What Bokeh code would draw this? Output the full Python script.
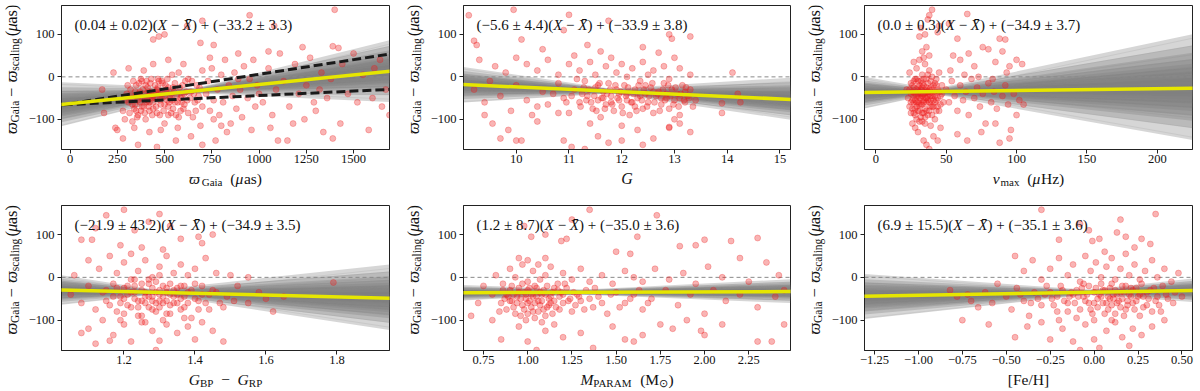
import math
from bokeh.plotting import figure
from bokeh.models import Range1d, FixedTicker, Label, Slope, ColumnDataSource
from bokeh.layouts import column, row
from bokeh.embed import file_html
from bokeh.resources import INLINE

FONT = "Liberation Serif"

# ---------------- data ----------------
Y_RANGE = (-171, 168)
Y_TICKS = [-100, 0, 100]
Y_TICKLABELS = ["\u2212100", "0", "100"]

INTERCEPT_OFFSETS = [1.3, -4.0, 3.0, -1.0, 5.0, -2.6, 0.3, -5.3, 2.0, -0.3, 3.6, -1.7,
                     1.0, -3.3, 2.6, -0.7, 6.2, -2.0, 0.7, -4.6, 1.7, -0.2, 4.0, -3.0]

# panel 1: parallax
P1_XRANGE = (-45, 1690)
P1_TICKS = [0, 250, 500, 750, 1000, 1250, 1500]
P1_TICKLABELS = ["0", "250", "500", "750", "1000", "1250", "1500"]
P1_FIT = (0.045, -33.2, 660)          # slope, intercept at X-bar, X-bar
P1_FIT_TEXT = ("0.04 \u00b1 0.02", "\u221233.2 \u00b1 3.3")
P1_SLOPES = [-0.02, -0.005, 0.006, 0.012, 0.018, 0.022, 0.027, 0.031, 0.035, 0.038, 0.041, 0.045,
             0.047, 0.050, 0.054, 0.058, 0.062, 0.066, 0.071, 0.075, 0.081, 0.089, 0.098, 0.11]
P1_BOUNDS = [(0.069, -63.0), (0.021, -65.0)]   # dashed lines: gradient, value at x=0
P1_POINTS = [
    (1400, 158), (950, 145), (700, 132), (620, 120), (500, 100), (470, 95), (440, 88), (690, 80), (760, 75),
    (1050, 60), (1230, 70), (1390, 72), (1420, 68), (1500, 55), (1080, 120), (310, 20), (230, 10), (170, -30),
    (180, -85), (240, -120), (250, -125), (280, -145), (360, -160), (460, -165), (560, -150), (640, -140),
    (700, -160), (770, -150), (1100, -150), (1150, -150), (1340, -130), (1390, -145), (1580, -125), (1690, -90),
    (1650, -70), (1240, -100), (1290, -60), (1430, -110), (1520, -60),
    (300, -40), (310, -60), (320, -30), (330, -50), (340, -75), (350, -20), (350, -45), (360, -90), (370, -35),
    (370, -60), (380, -10), (380, -50), (390, -70), (400, -40), (400, -100), (410, -25), (410, -55), (420, -45),
    (420, -80), (430, -5), (430, -35), (440, -60), (450, -20), (450, -50), (460, -85), (470, -40), (480, -65),
    (490, -15), (500, -45), (500, -110), (510, -30), (520, -70), (530, -50), (540, 5), (550, -35), (560, -90),
    (570, -60), (580, -25), (590, -45), (600, -75), (610, -10), (620, -55), (640, -35), (650, -95), (660, -60),
    (670, -20), (680, -45), (690, -115), (700, -70), (330, -105), (390, 15), (440, 30), (520, 40), (600, 30),
    (280, -80), (290, -100), (340, -120), (420, -130), (480, -125), (570, -120), (345, -35), (365, -15),
    (375, -80), (395, -55), (405, -10), (415, -70), (435, -50), (455, -35), (465, -5), (475, -90), (485, -50),
    (505, -20), (515, -55), (535, -85), (545, -25), (555, -60), (575, 10), (585, -80), (605, -40), (625, -5),
    (295, -55), (305, -20), (315, -85), (325, -45), (335, -10), (345, -65), (355, -95), (365, -40), (375, -5),
    (385, -30), (395, -85), (405, -60), (415, -35), (425, -15), (435, -90), (445, -40), (455, -70), (465, -25),
    (475, -55), (485, -10), (495, -80), (505, -35), (515, -5), (525, -60), (535, -40), (545, -75), (555, -15),
    (565, -45), (575, -95), (585, -50), (595, -20), (605, -65), (615, -35), (625, -85), (635, -50), (645, -10),
    (655, -40), (665, -80), (675, -55), (685, -25), (360, -55), (380, -70), (400, -20), (420, -60), (440, -45),
    (460, -30), (480, -40), (500, -65), (520, -25), (540, -55), (330, -65), (350, -80), (440, -75), (590, -60),
    (470, -10), (520, -90),
    (720, -40), (730, -10), (740, -80), (750, 20), (760, -55), (780, -30), (790, -90), (800, 5), (810, -60),
    (820, 40), (840, -20), (850, -110), (860, -45), (870, 10), (880, -75), (890, 55), (900, -30), (910, -95),
    (920, 25), (940, -50), (950, -5), (960, -125), (970, 40), (980, -70), (990, -20), (1000, -40), (760, -100),
    (830, -130), (890, -5), (700, 15), (740, 45), (800, -115),
    (1020, -60), (1050, 20), (1070, -90), (1090, -30), (1110, 55), (1130, -10), (1160, -70), (1190, 30),
    (1210, -40), (1250, -20), (1270, 45), (1300, -80), (1330, 10), (1360, -50), (1380, -5), (1440, 30),
    (1470, -40), (1550, 5), (1600, -50), (1640, 40), (1670, -30), (1060, -120), (1180, -110), (1320, -30),
    (1610, 20),
]

# panel 2: G magnitude
P2_XRANGE = (9.0, 15.2)
P2_TICKS = [10, 11, 12, 13, 14, 15]
P2_TICKLABELS = ["10", "11", "12", "13", "14", "15"]
P2_FIT = (-5.65, -33.9, 11.8)
P2_FIT_TEXT = ("\u22125.6 \u00b1 4.4", "\u221233.9 \u00b1 3.8")
P2_SLOPES = [-18.2, -15.2, -13.4, -12.2, -11.0, -10.2, -9.2, -8.4, -7.6, -6.8, -6.2, -5.6,
             -5.2, -4.6, -3.8, -3.1, -2.4, -1.4, -0.6, 0.4, 1.6, 3.0, 4.8, 7.6]
P2_POINTS = [
    (9.1, 145), (9.95, 158), (11.0, 146), (11.75, 132), (10.9, 110), (12.9, 100), (12.95, 90), (13.3, 95),
    (9.2, 85), (10.1, 88), (11.35, 75), (12.4, 70), (9.25, 75), (10.5, 65), (11.6, 60), (12.7, 57), (13.0, 45),
    (9.3, 40), (9.6, 25), (9.8, 10), (10.0, 45), (10.2, 30), (10.4, 15), (10.6, 40), (10.8, 5), (11.0, 30),
    (11.1, 50), (11.2, 15), (11.4, 35), (11.5, 5), (11.7, 25), (11.8, 45), (11.9, 10), (12.0, 30), (12.1, 0),
    (12.2, 20), (12.4, 35), (12.5, 5), (12.6, 15), (12.8, 25), (12.9, -5), (13.1, 20), (13.3, 5), (14.1, 10),
    (9.2, -30), (9.4, -60), (9.5, -10), (9.7, -45), (9.9, -80), (10.0, -20), (10.2, -55), (10.3, -90),
    (10.5, -35), (10.6, -65), (10.8, -15), (10.9, -50), (11.0, -85), (11.1, -30), (11.2, -60), (11.3, -10),
    (11.35, -45), (11.45, -75), (11.5, -25), (11.55, -55), (11.6, -95), (11.65, -35), (11.7, -65), (11.75, -15),
    (11.8, -45), (11.85, -80), (11.9, -30), (11.95, -55), (12.0, -70), (12.05, -20), (12.1, -40), (12.15, -90),
    (12.2, -60), (12.25, -30), (12.3, -50), (12.35, -10), (12.4, -75), (12.45, -40), (12.5, -60), (12.55, -25),
    (12.6, -85), (12.65, -45), (12.7, -35), (12.75, -65), (12.8, -15), (12.85, -50), (12.9, -75), (12.95, -30),
    (13.0, -55), (13.05, -40), (13.1, -90), (13.15, -20), (13.2, -60), (13.25, -45), (13.3, -30), (13.35, -70),
    (13.4, -55), (13.9, -85), (13.9, -62), (14.2, -40), (14.25, -60), (11.4, -110), (12.0, -115), (12.9, -118),
    (11.25, -40), (11.55, -20), (11.8, -60), (12.1, -55), (12.35, -45), (12.6, -35), (12.85, -40), (13.1, -50),
    (12.45, -20), (12.75, -50), (11.95, -40), (12.25, -70), (13.2, -35), (11.65, -50),
    (11.22, -70), (11.28, -25), (11.33, -55), (11.38, -30), (11.42, -60), (11.48, -45), (11.52, -80),
    (11.58, -15), (11.62, -50), (11.68, -75), (11.72, -40), (11.78, -30), (11.82, -65), (11.88, -20),
    (11.92, -50), (11.98, -35), (12.02, -85), (12.08, -45), (12.12, -25), (12.18, -60), (12.22, -40),
    (12.28, -80), (12.32, -20), (12.38, -55), (12.42, -30), (12.48, -70), (12.52, -45), (12.58, -15),
    (12.62, -60), (12.68, -40), (12.72, -80), (12.78, -30), (12.82, -55), (12.88, -20), (12.92, -45),
    (12.98, -65), (13.02, -25), (13.08, -70), (13.12, -40), (13.18, -55), (13.22, -25), (13.28, -50),
    (10.7, -40), (10.95, -60), (11.15, -5), (10.4, -70), (10.8, -85), (11.05, -45),
    (9.4, -90), (9.55, -110), (9.7, -145), (9.85, -125), (10.0, -150), (10.1, -150), (10.4, -105), (10.9, -150),
    (11.05, -165), (11.3, -170), (11.55, -140), (11.75, -155), (12.0, -150), (12.3, -125), (12.4, -160),
    (12.6, -145), (12.9, -120), (13.1, -110), (13.3, -130), (13.0, -100),
]

# panel 3: nu_max
P3_XRANGE = (-8, 225)
P3_TICKS = [0, 50, 100, 150, 200]
P3_TICKLABELS = ["0", "50", "100", "150", "200"]
P3_FIT = (0.043, -34.9, 41)
P3_FIT_TEXT = ("0.0 \u00b1 0.3", "\u221234.9 \u00b1 3.7")
P3_SLOPES = [-0.59, -0.44, -0.35, -0.29, -0.23, -0.185, -0.14, -0.095, -0.056, -0.02, 0.01, 0.04,
             0.064, 0.094, 0.13, 0.166, 0.205, 0.25, 0.295, 0.34, 0.4, 0.475, 0.565, 0.7]
P3_POINTS = [
    (40, 158), (38, 145), (65, 148), (37, 135), (52, 125), (45, 120), (32, 115), (35, 100), (44, 105), (88, 90),
    (92, 88), (58, 90), (31, 95), (76, 70), (80, 65), (90, 60), (55, 50), (60, 40), (66, 55), (100, 40),
    (104, 30), (95, 25), (70, 25), (85, 35),
    (24, 10), (26, -20), (27, -60), (28, -40), (29, 20), (30, -80), (30, -10), (31, -50), (32, -30), (32, -95),
    (33, 5), (33, -65), (34, -40), (34, -20), (35, -75), (35, 30), (36, -50), (36, -5), (37, -35), (37, -90),
    (38, -60), (38, 15), (39, -25), (39, -45), (40, -70), (40, 0), (41, -40), (42, -100), (42, -15), (43, -55),
    (44, -30), (45, 10), (45, -80), (46, -45), (47, -20), (48, -60), (25, -40), (25, -85), (26, -110),
    (28, -120), (29, -5), (31, 40), (33, 60), (34, 45), (36, 70), (38, 50), (27, 35), (23, -50), (22, -30),
    (24, -70), (30, -130), (34, -150), (36, -160), (38, -170), (41, -140), (44, -150), (46, -120), (39, -115),
    (26, -55), (27, -10), (28, -75), (29, -45), (30, -25), (31, -65), (32, -10), (33, -45), (34, -85),
    (35, -30), (36, -60), (37, -15), (38, -40), (39, -70), (40, -30), (41, -55), (42, -45), (43, -20),
    (31, -35), (33, -25), (35, -50), (37, -55), (29, -60), (32, -50), (34, -60), (36, -35),
    (24, -30), (25, -15), (25, -60), (26, -35), (26, -75), (27, -25), (27, -45), (28, -5), (28, -55),
    (28, -90), (29, -30), (29, -70), (30, -45), (30, -60), (31, -20), (31, -80), (32, -40), (32, -65),
    (33, -15), (33, -85), (34, -55), (34, -5), (35, -40), (35, -95), (36, -25), (36, -80), (37, -45), (37, 5),
    (38, -30), (38, -80), (39, -55), (39, -10), (40, -45), (40, -90), (41, -20), (41, -70), (42, -35),
    (42, -60), (43, -80), (43, -5), (44, -50), (44, -70), (45, -35), (46, -65), (47, -40), (29, -100),
    (31, -105), (35, -110), (27, -85), (33, -105),
    (50, -30), (52, -60), (54, -10), (56, -45), (58, -80), (60, -20), (62, -55), (64, -35), (66, -90), (68, -5),
    (70, -50), (72, -25), (74, -70), (76, -40), (78, -110), (80, -15), (82, -60), (84, -35), (86, -75),
    (88, -155), (90, -45), (92, -20), (94, -65), (96, -125), (98, -40), (100, -90), (102, -55), (105, -65),
    (58, -135), (65, -150), (75, -130), (85, -110), (95, -145), (53, 15), (63, 5), (73, 0), (83, -5), (93, 10),
]

# panel 4: colour
P4_XRANGE = (1.024, 1.948)
P4_TICKS = [1.2, 1.4, 1.6, 1.8]
P4_TICKLABELS = ["1.2", "1.4", "1.6", "1.8"]
P4_FIT = (-21.0, -34.9, 1.29)
P4_FIT_TEXT = ("\u221221.9 \u00b1 43.2", "\u221234.9 \u00b1 3.5")
P4_SLOPES = [-126, -101, -86, -76, -66, -58, -51, -43, -37, -31, -26, -21,
             -17, -12, -6, 0, 6, 14, 21, 29, 39, 51, 66, 89]
P4_POINTS = [
    (1.2, 158), (1.3, 148), (1.15, 145), (1.27, 130), (1.33, 120), (1.12, 115), (1.23, 110), (1.45, 100),
    (1.41, 95), (1.08, 88), (1.11, 88), (1.36, 90), (1.19, 75), (1.42, 80), (1.25, 70), (1.31, 65),
    (1.06, 5), (1.1, 40), (1.13, 20), (1.16, 50), (1.18, 10), (1.2, 35), (1.22, 55), (1.24, 15), (1.26, 40),
    (1.28, 0), (1.3, 25), (1.32, 50), (1.34, 10), (1.36, 30), (1.38, 5), (1.4, 20), (1.43, 45), (1.46, 10),
    (1.5, 5), (1.55, 0), (1.79, -12),
    (1.05, -40), (1.08, -60), (1.1, -20), (1.12, -75), (1.14, -35), (1.15, -55), (1.17, -15), (1.18, -80),
    (1.19, -45), (1.2, -25), (1.21, -65), (1.22, -5), (1.23, -50), (1.24, -90), (1.25, -30), (1.26, -60),
    (1.27, -15), (1.27, -45), (1.28, -75), (1.29, -35), (1.3, -55), (1.31, -20), (1.32, -85), (1.33, -40),
    (1.34, -60), (1.35, -25), (1.36, -50), (1.37, -70), (1.38, -35), (1.39, -95), (1.4, -15), (1.41, -55),
    (1.42, -40), (1.44, -75), (1.45, -30), (1.47, -60), (1.49, -45), (1.52, -20), (1.55, -60), (1.58, -35),
    (1.6, -50), (1.62, -80), (1.51, -55), (1.65, -45),
    (1.21, -40), (1.23, -20), (1.25, -55), (1.26, -35), (1.28, -45), (1.29, -60), (1.3, -30), (1.31, -45),
    (1.32, -25), (1.33, -65), (1.35, -40), (1.37, -20), (1.24, -70), (1.27, -5), (1.34, -45), (1.22, -35),
    (1.15, -30), (1.16, -65), (1.17, -45), (1.18, -25), (1.19, -60), (1.2, -85), (1.2, -50), (1.21, -20),
    (1.22, -70), (1.23, -35), (1.24, -55), (1.25, -15), (1.25, -90), (1.26, -45), (1.27, -70), (1.28, -25),
    (1.28, -55), (1.29, -80), (1.29, -10), (1.3, -40), (1.3, -70), (1.31, -60), (1.32, -35), (1.32, -55),
    (1.33, -85), (1.33, -15), (1.34, -30), (1.35, -60), (1.36, -75), (1.36, -20), (1.37, -45), (1.38, -60),
    (1.39, -30), (1.4, -50), (1.41, -75), (1.42, -20), (1.43, -60), (1.44, -40), (1.46, -35), (1.48, -70),
    (1.19, -100), (1.26, -105), (1.31, -100), (1.37, -95), (1.23, -5), (1.3, 5),
    (1.1, -120), (1.14, -100), (1.17, -135), (1.2, -110), (1.22, -150), (1.25, -105), (1.28, -125),
    (1.3, -148), (1.32, -110), (1.35, -130), (1.38, -115), (1.42, -105), (1.45, -125), (1.48, -150),
    (1.12, -155), (1.16, -148), (1.29, -170), (1.4, -145), (1.08, -130),
]

# panel 5: mass
P5_XRANGE = (0.637, 2.486)
P5_TICKS = [0.75, 1.0, 1.25, 1.5, 1.75, 2.0, 2.25]
P5_TICKLABELS = ["0.75", "1.00", "1.25", "1.50", "1.75", "2.00", "2.25"]
P5_FIT = (1.5, -35.0, 1.3)
P5_FIT_TEXT = ("1.2 \u00b1 8.7", "\u221235.0 \u00b1 3.6")
P5_SLOPES = [-16.8, -12.4, -9.8, -8.1, -6.3, -5.0, -3.7, -2.4, -1.3, -0.2, 0.6, 1.5,
             2.2, 3.1, 4.1, 5.2, 6.3, 7.6, 8.9, 10.2, 11.9, 14.1, 16.7, 20.6]
P5_POINTS = [
    (1.35, 158), (1.25, 135), (1.73, 145), (0.98, 120), (1.1, 100), (1.02, 95), (1.22, 90), (1.19, 85),
    (1.62, 95), (2.3, 92), (2.0, 88), (1.95, 75), (2.15, 85), (1.86, 73), (1.58, 55), (1.5, 60), (0.95, 45),
    (1.0, 40), (1.06, 30), (1.1, 45),
    (0.75, -20), (0.82, 5), (0.86, -15), (0.9, 20), (0.93, 0), (0.97, 30), (1.0, -10), (1.03, 15), (1.07, -5),
    (1.1, 5), (1.13, 25), (1.17, -15), (1.2, 10), (1.25, -5), (1.3, 20), (1.35, -10), (1.42, 5), (1.48, -15),
    (1.55, 15), (1.6, 0), (1.65, -10), (1.72, 20), (1.8, -5), (1.88, 10), (1.95, -15), (2.02, 25), (2.1, 0),
    (2.2, 45), (2.25, -10), (2.35, 35), (2.42, 5),
    (0.72, -60), (0.8, -40), (0.84, -80), (0.87, -50), (0.9, -30), (0.92, -70), (0.94, -45), (0.96, -90),
    (0.98, -35), (1.0, -60), (1.01, -25), (1.03, -80), (1.05, -45), (1.07, -65), (1.09, -30), (1.1, -90),
    (1.12, -50), (1.14, -35), (1.16, -70), (1.18, -45), (1.2, -60), (1.22, -25), (1.25, -80), (1.28, -40),
    (1.3, -55), (1.33, -30), (1.37, -70), (1.4, -45), (1.45, -85), (1.5, -35), (1.55, -60), (1.6, -40),
    (1.65, -75), (1.7, -50), (1.78, -30), (1.85, -65), (1.92, -40), (2.0, -85), (2.05, -30), (2.12, -55),
    (2.2, -40), (2.3, -70), (2.4, -45), (2.45, -30),
    (0.88, -40), (0.91, -55), (0.95, -25), (0.99, -50), (1.02, -40), (1.04, -20), (1.06, -55), (1.08, -40),
    (1.11, -70), (1.15, -25), (1.19, -35), (0.97, -65), (1.13, -60), (1.24, -50),
    (0.85, -60), (0.86, -30), (0.88, -75), (0.89, -45), (0.9, -55), (0.91, -20), (0.92, -40), (0.93, -85),
    (0.94, -60), (0.95, -35), (0.96, -50), (0.97, -15), (0.98, -75), (0.99, -40), (1.0, -85), (1.0, -30),
    (1.01, -55), (1.02, -70), (1.03, -45), (1.04, -60), (1.05, -25), (1.06, -80), (1.07, -35), (1.08, -55),
    (1.09, -75), (1.1, -40), (1.11, -20), (1.12, -65), (1.13, -45), (1.14, -85), (1.15, -55), (1.17, -30),
    (1.18, -75), (1.2, -40), (1.21, -15), (1.23, -55), (1.26, -35), (1.27, -65), (1.29, -45), (1.32, -75),
    (1.35, -50), (1.38, -25), (1.42, -60), (1.47, -40), (1.52, -70), (1.58, -50), (1.63, -30), (1.68, -60),
    (0.99, -100), (1.04, -95), (1.08, -105),
    (0.68, -90), (0.8, -100), (0.85, -145), (0.95, -115), (1.0, -150), (1.05, -170), (1.1, -125), (1.15, -110),
    (1.2, -140), (1.3, -130), (1.37, -165), (1.48, -115), (1.55, -145), (1.6, -150), (1.65, -135), (1.75, -110),
    (1.82, -120), (1.9, -100), (1.98, -125), (2.0, -135), (2.1, -110), (2.3, -150), (2.38, -150), (2.45, -110),
]

# panel 6: metallicity
P6_XRANGE = (-1.307, 0.56)
P6_TICKS = [-1.25, -1.0, -0.75, -0.5, -0.25, 0.0, 0.25, 0.5]
P6_TICKLABELS = ["\u22121.25", "\u22121.00", "\u22120.75", "\u22120.50", "\u22120.25", "0.00", "0.25", "0.50"]
P6_FIT = (7.0, -35.1, -0.03)
P6_FIT_TEXT = ("6.9 \u00b1 15.5", "\u221235.1 \u00b1 3.6")
P6_SLOPES = [-28.7, -20.2, -15.1, -11.7, -8.3, -5.8, -3.2, -0.6, 1.6, 3.6, 5.3, 7.0,
             8.4, 10.1, 12.1, 14.1, 16.4, 18.9, 21.5, 24.0, 27.4, 31.7, 36.8, 44.4]
P6_POINTS = [
    (-0.3, 158), (0.35, 148), (0.15, 135), (-0.08, 125), (-0.03, 110), (0.13, 105), (0.18, 95), (0.03, 90),
    (-0.01, 85), (0.27, 90), (0.32, 78), (-0.2, 88), (0.23, 70), (0.06, 60),
    (-0.45, 50), (-0.4, 15), (-0.35, 40), (-0.3, -5), (-0.25, 20), (-0.2, 45), (-0.15, 5), (-0.12, 30),
    (-0.08, -10), (-0.05, 50), (-0.02, 15), (0.01, 35), (0.04, 0), (0.07, 25), (0.1, 45), (0.12, -5),
    (0.15, 20), (0.18, 55), (0.2, 5), (0.23, 30), (0.26, -5), (0.29, 15), (0.33, 40), (0.36, 0), (0.4, 20),
    (0.44, -10), (0.48, 10),
    (-0.75, -100), (-0.7, -55), (-0.66, -70), (-0.62, -35), (-0.58, -60), (-0.55, -15), (-0.5, -45),
    (-0.47, -75), (-0.44, -25), (-0.4, -55), (-0.37, -90), (-0.34, -35), (-0.3, -65), (-0.27, -20),
    (-0.24, -50), (-0.21, -80), (-0.18, -30), (-0.15, -60), (-0.12, -40), (-0.1, -95), (-0.07, -25),
    (-0.05, -55), (-0.02, -75), (0.0, -35), (0.02, -50), (0.04, -15), (0.06, -85), (0.08, -45), (0.1, -65),
    (0.12, -30), (0.14, -55), (0.16, -20), (0.18, -75), (0.2, -40), (0.22, -60), (0.24, -25), (0.26, -90),
    (0.28, -45), (0.3, -65), (0.32, -30), (0.35, -55), (0.38, -80), (0.41, -40), (0.45, -60), (0.5, -45),
    (-0.82, -30), (-0.78, -45), (-0.72, -40),
    (-0.1, -30), (-0.06, -45), (-0.03, -20), (0.0, -60), (0.03, -40), (0.05, -30), (0.09, -25), (0.11, -50),
    (0.13, -40), (0.17, -35), (0.19, -55), (0.21, -25), (0.25, -45), (-0.14, -45), (0.07, -60), (0.15, -70),
    (-0.25, -35), (-0.23, -65), (-0.21, -45), (-0.19, -20), (-0.17, -55), (-0.15, -80), (-0.13, -35),
    (-0.11, -60), (-0.09, -45), (-0.08, -75), (-0.06, -15), (-0.04, -40), (-0.03, -60), (-0.01, -85),
    (0.01, -25), (0.02, -70), (0.04, -45), (0.05, -60), (0.06, -30), (0.08, -75), (0.09, -50), (0.1, -15),
    (0.11, -40), (0.12, -85), (0.13, -60), (0.15, -35), (0.16, -50), (0.17, -90), (0.18, -20), (0.19, -65),
    (0.21, -45), (0.22, -30), (0.23, -75), (0.24, -55), (0.26, -40), (0.27, -15), (0.28, -70), (0.3, -35),
    (0.31, -50), (0.33, -80), (0.34, -25), (0.36, -45), (0.37, -65), (0.39, -20), (0.42, -50), (0.46, -35),
    (-0.28, -40), (-0.32, -50), (-0.36, -60), (-0.42, -40), (0.0, -100), (0.1, -100), (-0.2, -100),
    (-0.6, -110), (-0.45, -140), (-0.38, -115), (-0.3, -105), (-0.25, -145), (-0.18, -120), (-0.12, -150),
    (-0.05, -110), (0.0, -145), (0.03, -165), (0.07, -125), (0.12, -105), (0.16, -140), (0.2, -160),
    (0.27, -135), (0.33, -115), (0.4, -100), (-0.08, -170), (0.22, -120),
]

# axis label texts: (text, font size px, italic, subscript shift px); blanks only set spacing
Y_LABEL = [("\u03d6", 16.5, True, 0), ("Gaia", 11.5, False, 3.5), ("  \u2212  ", 16.5, False, 0),
           ("\u03d6", 16.5, True, 0), ("scaling", 11.5, False, 3.5), ("  (", 16.5, False, 0),
           ("\u03bc", 16.5, True, 0), ("as)", 16.5, False, 0)]
P1_XLABEL = [("\u03d6", 15.5, True, 0), ("Gaia", 11, False, 3.5), ("  (", 15.5, False, 0),
             ("\u03bc", 15.5, True, 0), ("as)", 15.5, False, 0)]
P2_XLABEL = [("G", 16, True, 0)]
P3_XLABEL = [("\u03bd", 15.5, True, 0), ("max", 11, False, 3.5), ("  (", 15.5, False, 0),
             ("\u03bc", 15.5, True, 0), ("Hz)", 15.5, False, 0)]
P4_XLABEL = [("G", 15.5, True, 0), ("BP", 11, False, 3.5), ("  \u2212  ", 15.5, False, 0),
             ("G", 15.5, True, 0), ("RP", 11, False, 3.5)]
P5_XLABEL = [("M", 15.5, True, 0), ("PARAM", 11, False, 3.5), ("  (M", 15.5, False, 0),
             ("\u2299", 11, False, 3.5), (")", 15.5, False, 0)]
P6_XLABEL = [("[Fe/H]", 15.5, False, 0)]

PANELS = [
    dict(xr=P1_XRANGE, ticks=P1_TICKS, tl=P1_TICKLABELS, fit=P1_FIT, ft=P1_FIT_TEXT, sl=P1_SLOPES, pts=P1_POINTS, xl=P1_XLABEL, bounds=P1_BOUNDS),
    dict(xr=P2_XRANGE, ticks=P2_TICKS, tl=P2_TICKLABELS, fit=P2_FIT, ft=P2_FIT_TEXT, sl=P2_SLOPES, pts=P2_POINTS, xl=P2_XLABEL, bounds=[]),
    dict(xr=P3_XRANGE, ticks=P3_TICKS, tl=P3_TICKLABELS, fit=P3_FIT, ft=P3_FIT_TEXT, sl=P3_SLOPES, pts=P3_POINTS, xl=P3_XLABEL, bounds=[]),
    dict(xr=P4_XRANGE, ticks=P4_TICKS, tl=P4_TICKLABELS, fit=P4_FIT, ft=P4_FIT_TEXT, sl=P4_SLOPES, pts=P4_POINTS, xl=P4_XLABEL, bounds=[]),
    dict(xr=P5_XRANGE, ticks=P5_TICKS, tl=P5_TICKLABELS, fit=P5_FIT, ft=P5_FIT_TEXT, sl=P5_SLOPES, pts=P5_POINTS, xl=P5_XLABEL, bounds=[]),
    dict(xr=P6_XRANGE, ticks=P6_TICKS, tl=P6_TICKLABELS, fit=P6_FIT, ft=P6_FIT_TEXT, sl=P6_SLOPES, pts=P6_POINTS, xl=P6_XLABEL, bounds=[]),
]

# ---------------- layout / style ----------------
FRAME_W = [328, 327, 328]
YLAB_W = 23
BORDER_L = 38
BORDER_R = [13, 13, 8]
BORDER_B = 21
ROW_GEOM = [dict(fh=144, top=5, xlab_h=30, base=35), dict(fh=145, top=5, xlab_h=20, base=35)]
BASELINE_FIX = 6     # Bokeh draws an alphabetic baseline this many px lower than asked

CW = {' ': 0.25, '(': 0.333, ')': 0.333, '[': 0.333, ']': 0.333, '/': 0.278, '.': 0.25,
      '\u00b1': 0.549, '\u2212': 0.564, '+': 0.564,
      'a': 0.444, 'c': 0.444, 'e': 0.444, 'g': 0.5, 'i': 0.278, 'l': 0.278, 'm': 0.778, 'n': 0.5,
      's': 0.389, 'x': 0.5, 'z': 0.444, 'u': 0.5, 'o': 0.5, 'r': 0.333, 't': 0.278, 'h': 0.5,
      'A': 0.722, 'B': 0.667, 'F': 0.556, 'G': 0.722, 'H': 0.722, 'M': 0.889, 'P': 0.556,
      'R': 0.667, 'X': 0.722, '\u03d6': 0.82, '\u03bc': 0.55, '\u03bd': 0.5, '\u2299': 0.85,
      '\u0304': 0.0}
CW_ITALIC = {'X': 0.611, 'M': 0.833, 'G': 0.722}


def text_w(t, size, italic=False):
    tot = 0.0
    for ch in t:
        if italic and ch in CW_ITALIC:
            tot += CW_ITALIC[ch]
        else:
            tot += CW.get(ch, 0.5)
    return tot * size


def ident(v):
    return v


def add_label(p, conv_x, conv_y, x_px, y_px, t, size, italic, angle=0.0):
    """Place a text run at pixel offsets; leading blanks become an offset (SVG drops them)."""
    lead = len(t) - len(t.lstrip(" "))
    shift = lead * CW[' '] * size
    if angle:
        y_px = y_px + shift
        x_px = x_px - BASELINE_FIX
    else:
        x_px = x_px + shift
        y_px = y_px + BASELINE_FIX
    p.add_layout(Label(x=conv_x(x_px), y=conv_y(y_px), text=t.strip(" "), text_font=FONT,
                       text_font_size=f"{size}px",
                       text_font_style="italic" if italic else "normal",
                       text_color="#111111", angle=angle,
                       text_align="left", text_baseline="alphabetic"))


def text_fig(w, h):
    f = figure(width=w, height=h, x_range=Range1d(0, w), y_range=Range1d(0, h),
               x_axis_type=None, y_axis_type=None, min_border=0,
               toolbar_location=None, output_backend="svg")
    f.outline_line_color = None
    f.xgrid.visible = False
    f.ygrid.visible = False
    f.background_fill_color = "white"
    f.border_fill_color = "white"
    return f


def make_panel(info, col, geom):
    fw, fh = FRAME_W[col], geom["fh"]
    x0, x1 = info["xr"]
    y0, y1 = Y_RANGE

    p = figure(frame_width=fw, frame_height=fh,
               x_range=Range1d(x0, x1), y_range=Range1d(y0, y1),
               min_border_left=BORDER_L, min_border_right=BORDER_R[col],
               min_border_top=geom["top"], min_border_bottom=BORDER_B,
               toolbar_location=None, output_backend="svg")
    p.xgrid.visible = False
    p.ygrid.visible = False
    p.background_fill_color = "white"
    p.border_fill_color = "white"
    p.outline_line_color = "#222222"
    p.outline_line_width = 1
    p.outline_line_alpha = 1.0

    p.xaxis.ticker = FixedTicker(ticks=info["ticks"])
    p.xaxis.major_label_overrides = {t: l for t, l in zip(info["ticks"], info["tl"])}
    p.yaxis.ticker = FixedTicker(ticks=Y_TICKS)
    p.yaxis.major_label_overrides = {t: l for t, l in zip(Y_TICKS, Y_TICKLABELS)}
    for ax in (p.xaxis[0], p.yaxis[0]):
        ax.axis_line_color = "#222222"
        ax.major_tick_line_color = "#222222"
        ax.major_tick_out = 4
        ax.major_tick_in = 0
        ax.minor_tick_line_color = None
        ax.major_label_text_font = FONT
        ax.major_label_text_font_size = "12.5px"
        ax.major_label_text_color = "#111111"
    p.xaxis.major_label_standoff = 1
    p.yaxis.major_label_standoff = 3

    # posterior fan: nested bands from paired slope / intercept draws, plus the draws themselves
    m, b, xbar = info["fit"]
    sl = sorted(info["sl"])
    offs = sorted(INTERCEPT_OFFSETS)
    n = len(sl)
    bxs, bys = [], []
    for i in range(n // 2):
        s_lo, s_hi = sl[i], sl[n - 1 - i]
        d_lo, d_hi = offs[i], offs[n - 1 - i]
        bxs.append([x0, xbar, x1, x1, xbar, x0])
        bys.append([b + d_hi + s_lo * (x0 - xbar), b + d_hi, b + d_hi + s_hi * (x1 - xbar),
                    b + d_lo + s_lo * (x1 - xbar), b + d_lo, b + d_lo + s_hi * (x0 - xbar)])
    p.patches(bxs, bys, fill_color="#808080", fill_alpha=0.32, line_color=None)

    xs0, xs1, ys0, ys1 = [], [], [], []
    for s, off in zip(info["sl"], INTERCEPT_OFFSETS):
        bb = b + off
        xs0.append(x0)
        xs1.append(x1)
        ys0.append(bb + s * (x0 - xbar))
        ys1.append(bb + s * (x1 - xbar))
    p.segment(x0="x0", y0="y0", x1="x1", y1="y1",
              source=ColumnDataSource(dict(x0=xs0, x1=xs1, y0=ys0, y1=ys1)),
              line_color="#808080", line_alpha=0.15, line_width=1)
    # zero line
    p.segment(x0=[x0], x1=[x1], y0=[0], y1=[0], line_color="#8a8a8a",
              line_width=1, line_dash="4 3")
    # data points
    px = [q[0] for q in info["pts"]]
    py = [q[1] for q in info["pts"]]
    p.scatter(px, py, size=6, fill_color="#ee1c1c", fill_alpha=0.33,
              line_color="#ee1c1c", line_alpha=0.35, line_width=0.8)
    # dashed envelope
    for g, c in info["bounds"]:
        p.add_layout(Slope(gradient=g, y_intercept=c, line_color="#1a1a1a",
                           line_width=3, line_dash="9 4"))
    # best fit
    p.add_layout(Slope(gradient=m, y_intercept=b - m * xbar, line_color="#e6e600", line_width=3.5))

    # fit annotation (inside frame), positioned in frame pixels
    def dx(px_):
        return x0 + px_ * (x1 - x0) / fw

    def dy(py_):
        return y0 + py_ * (y1 - y0) / fh

    a_txt, b_txt = info["ft"]
    ann = [("(" + a_txt + ")(", 15, False), ("X", 15, True), (" \u2212 ", 15, False),
           ("X\u0304", 15, True), (") + (" + b_txt + ")", 15, False)]
    xc = 13
    for t, size, it in ann:
        add_label(p, dx, dy, xc, fh - 25.5, t, size, it)
        xc += text_w(t, size, it)

    # y label in its own strip
    h_main = geom["top"] + fh + BORDER_B
    ylab = text_fig(YLAB_W, h_main)
    tot = sum(text_w(t, s, it) for t, s, it, _ in Y_LABEL)
    yc = BORDER_B + fh / 2 - tot / 2
    for t, size, it, sh in Y_LABEL:
        add_label(ylab, ident, ident, 16.5 + sh, yc, t, size, it, angle=math.pi / 2)
        yc += text_w(t, size, it)

    # x label strip
    w_all = YLAB_W + BORDER_L + fw + BORDER_R[col]
    xlab = text_fig(w_all, geom["xlab_h"])
    tot = sum(text_w(t, s, it) for t, s, it, _ in info["xl"])
    xc = YLAB_W + BORDER_L + fw / 2 - tot / 2
    ybase = geom["xlab_h"] - (geom["base"] - BORDER_B)
    for t, size, it, sh in info["xl"]:
        add_label(xlab, ident, ident, xc, ybase - sh, t, size, it)
        xc += text_w(t, size, it)

    return column(row(ylab, p), xlab)


rows = []
for r in range(2):
    cols = [make_panel(PANELS[r * 3 + c], c, ROW_GEOM[r]) for c in range(3)]
    rows.append(row(*cols))
layout = column(*rows)

open("out.html", "w").write(file_html(layout, INLINE, "parallax offsets"))
